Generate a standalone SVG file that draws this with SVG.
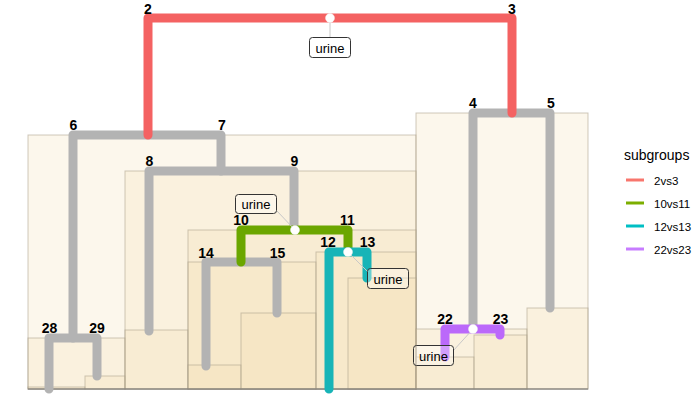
<svg xmlns="http://www.w3.org/2000/svg" width="692" height="408" viewBox="0 0 692 408">
<style>
.bg{fill:#F5DEB3;fill-opacity:0.25;stroke:#A89C88;stroke-opacity:0.55;stroke-width:1}
.e{fill:none;stroke-width:9;stroke-linejoin:round;stroke-linecap:round}
.g{stroke:#B3B3B3}
.nl{font-family:"Liberation Sans",Arial,sans-serif;font-weight:bold;font-size:14px;text-anchor:middle;fill:#000}
.lb{fill:#fff;fill-opacity:0.35;stroke:#333;stroke-width:1}
.lt{font-family:"Liberation Sans",Arial,sans-serif;font-size:13px;text-anchor:middle;fill:#000}
.seg{stroke:#C8C8C8;stroke-width:1}
.dot{fill:#fff;stroke:#eee;stroke-width:0.5}
.leg{font-family:"Liberation Sans",Arial,sans-serif;font-size:11.5px;fill:#000}
</style>
<rect width="692" height="408" fill="#fff"/>
<g id="boxes">
<rect class="bg" x="28" y="135" width="388" height="254"/>
<rect class="bg" x="416" y="113" width="172" height="276"/>
<rect class="bg" x="125" y="171" width="291" height="218"/>
<rect class="bg" x="28" y="338" width="97" height="51"/>
<rect class="bg" x="28" y="387" width="57" height="2"/>
<rect class="bg" x="85" y="376" width="40" height="13"/>
<rect class="bg" x="125" y="330" width="63" height="59"/>
<rect class="bg" x="188" y="230" width="228" height="159"/>
<rect class="bg" x="188" y="262" width="128" height="127"/>
<rect class="bg" x="188" y="365" width="53" height="24"/>
<rect class="bg" x="241" y="313" width="75" height="76"/>
<rect class="bg" x="316" y="252" width="100" height="137"/>
<rect class="bg" x="348" y="278" width="68" height="111"/>
<rect class="bg" x="416" y="329" width="111" height="60"/>
<rect class="bg" x="416" y="357" width="58" height="32"/>
<rect class="bg" x="474" y="335" width="53" height="54"/>
<rect class="bg" x="527" y="308" width="61" height="81"/>
<line x1="28" y1="389" x2="588" y2="389" stroke="#777" stroke-width="1"/>
</g>
<g id="connectors">
<path class="e g" d="M473,329 V113 H550 V308"/>
<path class="e g" d="M73,338 V135 H221 V171"/>
<path class="e g" d="M149,331 V171 H294 V230"/>
<path class="e g" d="M206,366 V262 H277 V313"/>
<path class="e g" d="M49,389 V338 H97 V376"/>
<path class="e" stroke="#F46262" d="M148,135 V18 H512 V113"/>
<path class="e" stroke="#6BA600" d="M241,262 V230 H348 V252"/>
<path class="e" stroke="#18B4B7" d="M329,389 V252 H367 V278"/>
<path class="e" stroke="#BB69FA" d="M445,357 V329 H500 V335"/>
</g>
<g id="labels">
<line class="seg" x1="330" y1="18" x2="330" y2="37"/>
<rect class="lb" x="309.5" y="37.5" width="41" height="20" rx="3"/>
<text class="lt" x="330" y="53">urine</text>
<line class="seg" x1="295" y1="230" x2="277" y2="211"/>
<rect class="lb" x="235.5" y="194.5" width="41" height="19" rx="3"/>
<text class="lt" x="256" y="209">urine</text>
<line class="seg" x1="348" y1="252" x2="368" y2="272"/>
<rect class="lb" x="367.5" y="268.5" width="41" height="20" rx="3"/>
<text class="lt" x="388" y="284">urine</text>
<line class="seg" x1="473" y1="329" x2="453" y2="351"/>
<rect class="lb" x="413.5" y="345.5" width="40" height="20" rx="3"/>
<text class="lt" x="433.5" y="361">urine</text>
</g>
<g id="junctions">
<circle class="dot" cx="330" cy="18" r="4.5"/>
<circle class="dot" cx="295" cy="230" r="4.5"/>
<circle class="dot" cx="348" cy="252" r="4.5"/>
<circle class="dot" cx="473" cy="329" r="4.5"/>
</g>
<g id="nodes">
<g id="n2"><text class="nl" x="148" y="14">2</text></g>
<g id="n3"><text class="nl" x="512" y="14">3</text></g>
<g id="n4"><text class="nl" x="473" y="108">4</text></g>
<g id="n5"><text class="nl" x="551" y="108">5</text></g>
<g id="n6"><text class="nl" x="73.5" y="130">6</text></g>
<g id="n7"><text class="nl" x="222" y="130">7</text></g>
<g id="n8"><text class="nl" x="149.5" y="166">8</text></g>
<g id="n9"><text class="nl" x="294.5" y="166">9</text></g>
<g id="n10"><text class="nl" x="241" y="225">10</text></g>
<g id="n11"><text class="nl" x="347.5" y="225">11</text></g>
<g id="n12"><text class="nl" x="328" y="247">12</text></g>
<g id="n13"><text class="nl" x="367.5" y="247">13</text></g>
<g id="n14"><text class="nl" x="206" y="258">14</text></g>
<g id="n15"><text class="nl" x="277.5" y="258">15</text></g>
<g id="n22"><text class="nl" x="445" y="324">22</text></g>
<g id="n23"><text class="nl" x="500.5" y="324">23</text></g>
<g id="n28"><text class="nl" x="49.5" y="332.5">28</text></g>
<g id="n29"><text class="nl" x="97" y="332.5">29</text></g>
</g>
<g id="legend">
<text x="624" y="160" font-family="'Liberation Sans',Arial,sans-serif" font-size="14px">subgroups</text>
<line x1="626" y1="180" x2="644" y2="180" stroke="#F8766D" stroke-width="3"/>
<text class="leg" x="654" y="185">2vs3</text>
<line x1="626" y1="203" x2="644" y2="203" stroke="#7CAE00" stroke-width="3"/>
<text class="leg" x="654" y="208">10vs11</text>
<line x1="626" y1="226" x2="644" y2="226" stroke="#00BFC4" stroke-width="3"/>
<text class="leg" x="654" y="231">12vs13</text>
<line x1="626" y1="249" x2="644" y2="249" stroke="#C77CFF" stroke-width="3"/>
<text class="leg" x="654" y="254">22vs23</text>
</g>
</svg>
